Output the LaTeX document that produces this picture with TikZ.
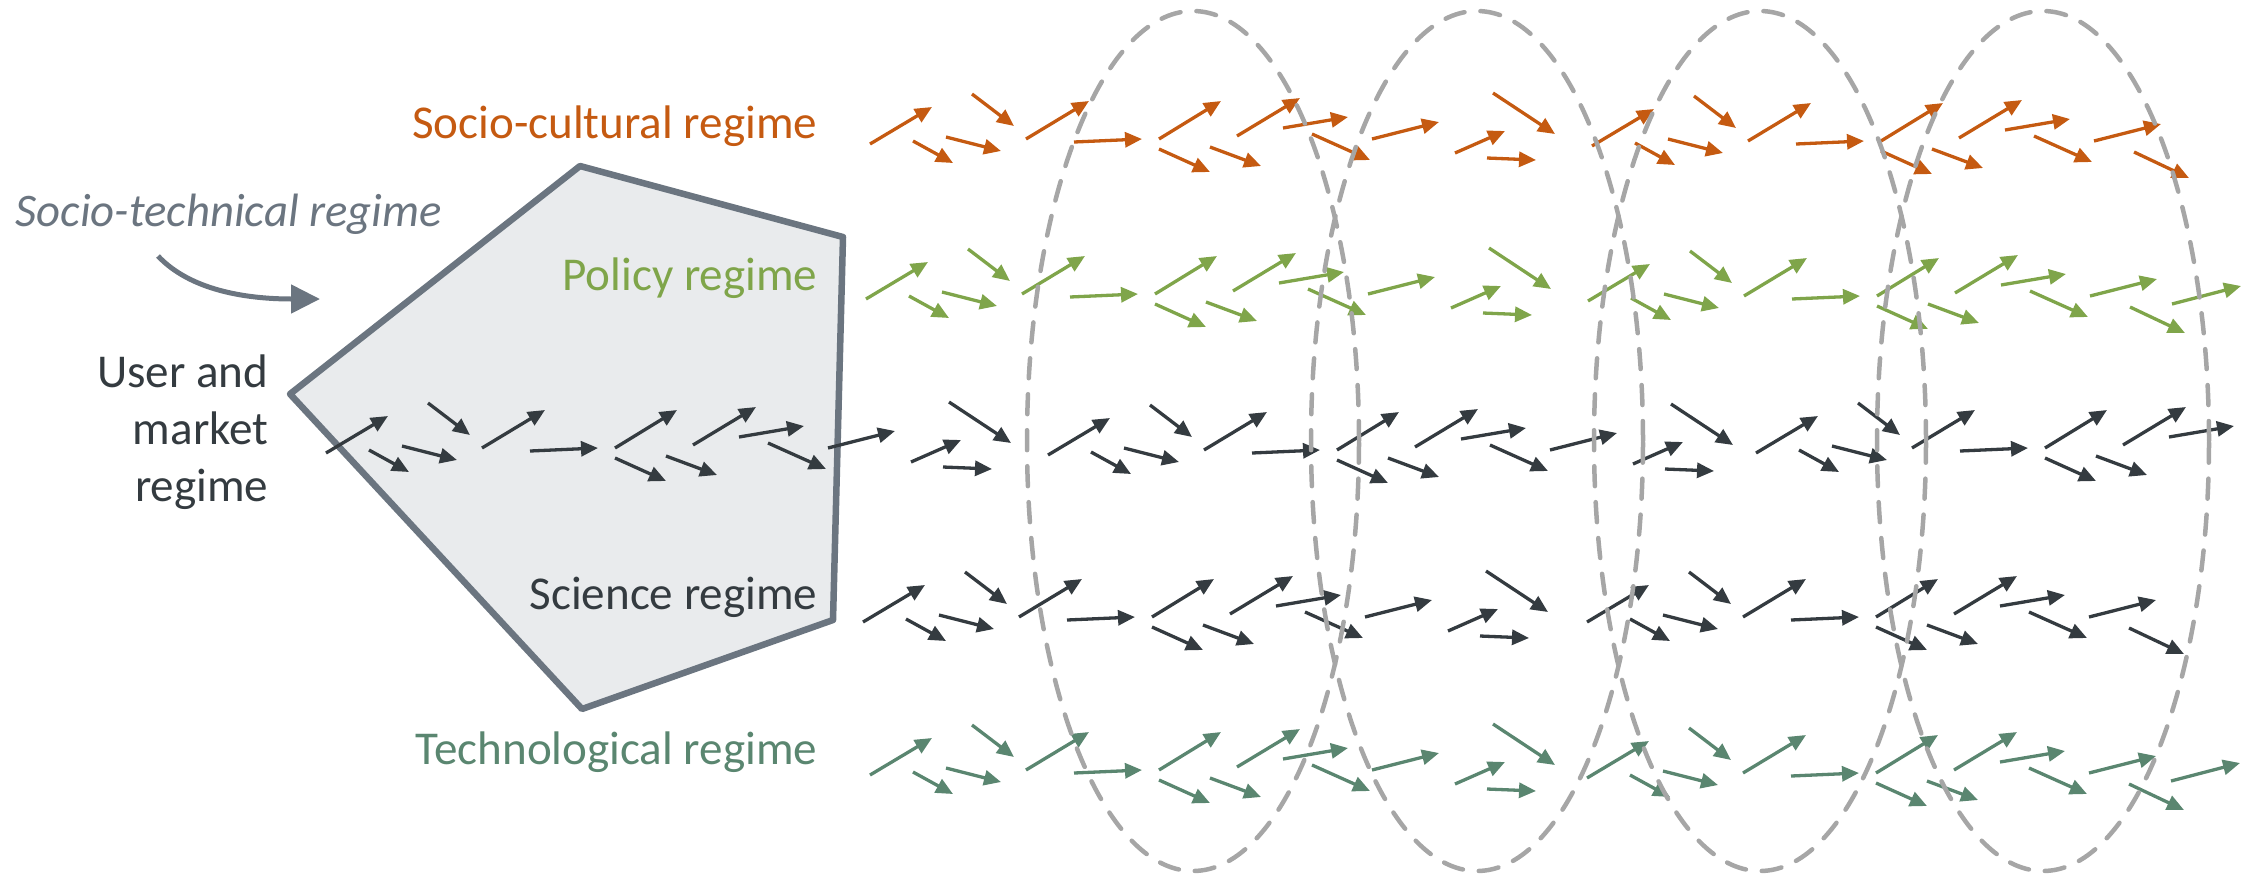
\documentclass[tikz,border=0pt]{standalone}
\usepackage{fontspec}
\setmainfont{Carlito}
\usetikzlibrary{arrows.meta}

\definecolor{orangeA}{HTML}{C55A11}
\definecolor{greenA}{HTML}{7FA54A}
\definecolor{darkA}{HTML}{343B40}
\definecolor{tealA}{HTML}{5A8670}
\definecolor{slateA}{HTML}{6B7580}
\definecolor{paleA}{HTML}{E9EBED}
\definecolor{ringgray}{HTML}{A6A6A6}

% one group of small arrows: start x/y and tip x/y, relative to the group origin
\newcommand{\tilestart}{0/0/62/-37, 102/-50/144/-18, 43/-3/83/19, 76/-7/131/7,
  156/-5/219/-43, 204/-2/272/-5, 289/-5/351/-43, 289/5/340/28, 340/3/391/22,
  367/-8/430/-46, 413/-16/478/-27}
\edef\tilehead{\tilestart, 442/-10/500/16, 502/-5/569/-22}
\newcommand{\tiletail}{623/-51/685/-10, 585/9/635/-13, 617/14/666/16}
\newcommand{\tileend}{542/6/597/32}
\newcommand{\tilelast}{584/3/653/-15}

\begin{document}
\begin{tikzpicture}[
  x=0.1mm, y=-0.1mm,
  flow/.style={line width=0.33mm, -{Triangle[length=1.7mm,width=1.5mm]}},
  ring/.style={draw=ringgray, line width=0.45mm, line cap=round,
    dash pattern=on 2mm off 1.6mm},
  regime/.style={font=\fontsize{13.4}{16}\selectfont, anchor=east, inner sep=0pt},
  pics/arrows/.style={code={
    \foreach \ax/\ay/\bx/\by in #1 {\draw[flow] (\ax,\ay) -- (\bx,\by);}
  }}
]
  \clip (0,0) rectangle (2252,879);

  % the socio-technical regime
  \draw[slateA, fill=paleA, line width=0.65mm, line join=round]
    (290,394) -- (580,166) -- (843,237) -- (833,620) -- (582,709) -- cycle;

  \node[regime, orangeA] (socio) at (818,126) {Socio-cultural regime};
  \node[regime, greenA] (policy) at (818,278) {Policy regime};
  \node[regime, darkA] (science) at (818,597) {Science regime};
  \node[regime, tealA] (techno) at (818,752) {Technological regime};
  \node[regime, darkA, align=right, font=\fontsize{13.4}{16.2}\selectfont]
    (user) at (269,432) {User and\\market\\regime};
  \node[regime, slateA, anchor=west, font=\fontsize{13.3}{16}\selectfont\itshape]
    (sociotech) at (15,214) {Socio-technical regime};

  \coordinate (sttail) at (158,256);
  \coordinate (sthead) at (320,299);
  \draw[slateA, line width=0.5mm, -{Triangle[length=2.9mm,width=2.8mm]}]
    (sttail) .. controls +(32,34) and +(-75,0) .. (sthead);

  % rows of arrows
  \pic[color=orangeA] at (870,144) {arrows=\tilehead};
  \pic[color=orangeA] at (870,144) {arrows=\tiletail};
  \pic[color=orangeA] at (1592,146) {arrows=\tilehead};
  \pic[color=orangeA] at (1592,146) {arrows=\tileend};

  \pic[color=greenA] at (866,299) {arrows=\tilehead};
  \pic[color=greenA] at (866,299) {arrows=\tiletail};
  \pic[color=greenA] at (1588,301) {arrows=\tilehead};
  \pic[color=greenA] at (1588,301) {arrows=\tileend};
  \pic[color=greenA] at (1588,301) {arrows=\tilelast};

  \foreach \ox/\oy in {326/453, 1048/455} {
    \pic[color=darkA] at (\ox,\oy) {arrows=\tilehead};
    \pic[color=darkA] at (\ox,\oy) {arrows=\tiletail};
  }
  \pic[color=darkA] at (1756,453) {arrows=\tilestart};

  \pic[color=darkA] at (863,622) {arrows=\tilehead};
  \pic[color=darkA] at (863,622) {arrows=\tiletail};
  \pic[color=darkA] at (1587,622) {arrows=\tilehead};
  \pic[color=darkA] at (1587,622) {arrows=\tileend};

  \pic[color=tealA] at (870,775) {arrows=\tilehead};
  \pic[color=tealA] at (870,775) {arrows=\tiletail};
  \pic[color=tealA] at (1587,778) {arrows=\tilehead};
  \pic[color=tealA] at (1587,778) {arrows=\tileend};
  \pic[color=tealA] at (1587,778) {arrows=\tilelast};

  % dashed rings across the regimes
  \foreach \cx in {1193, 1477, 1760, 2043}
    \draw[ring] (\cx,441) ellipse [x radius=16.6mm, y radius=43mm];
\end{tikzpicture}
\end{document}
